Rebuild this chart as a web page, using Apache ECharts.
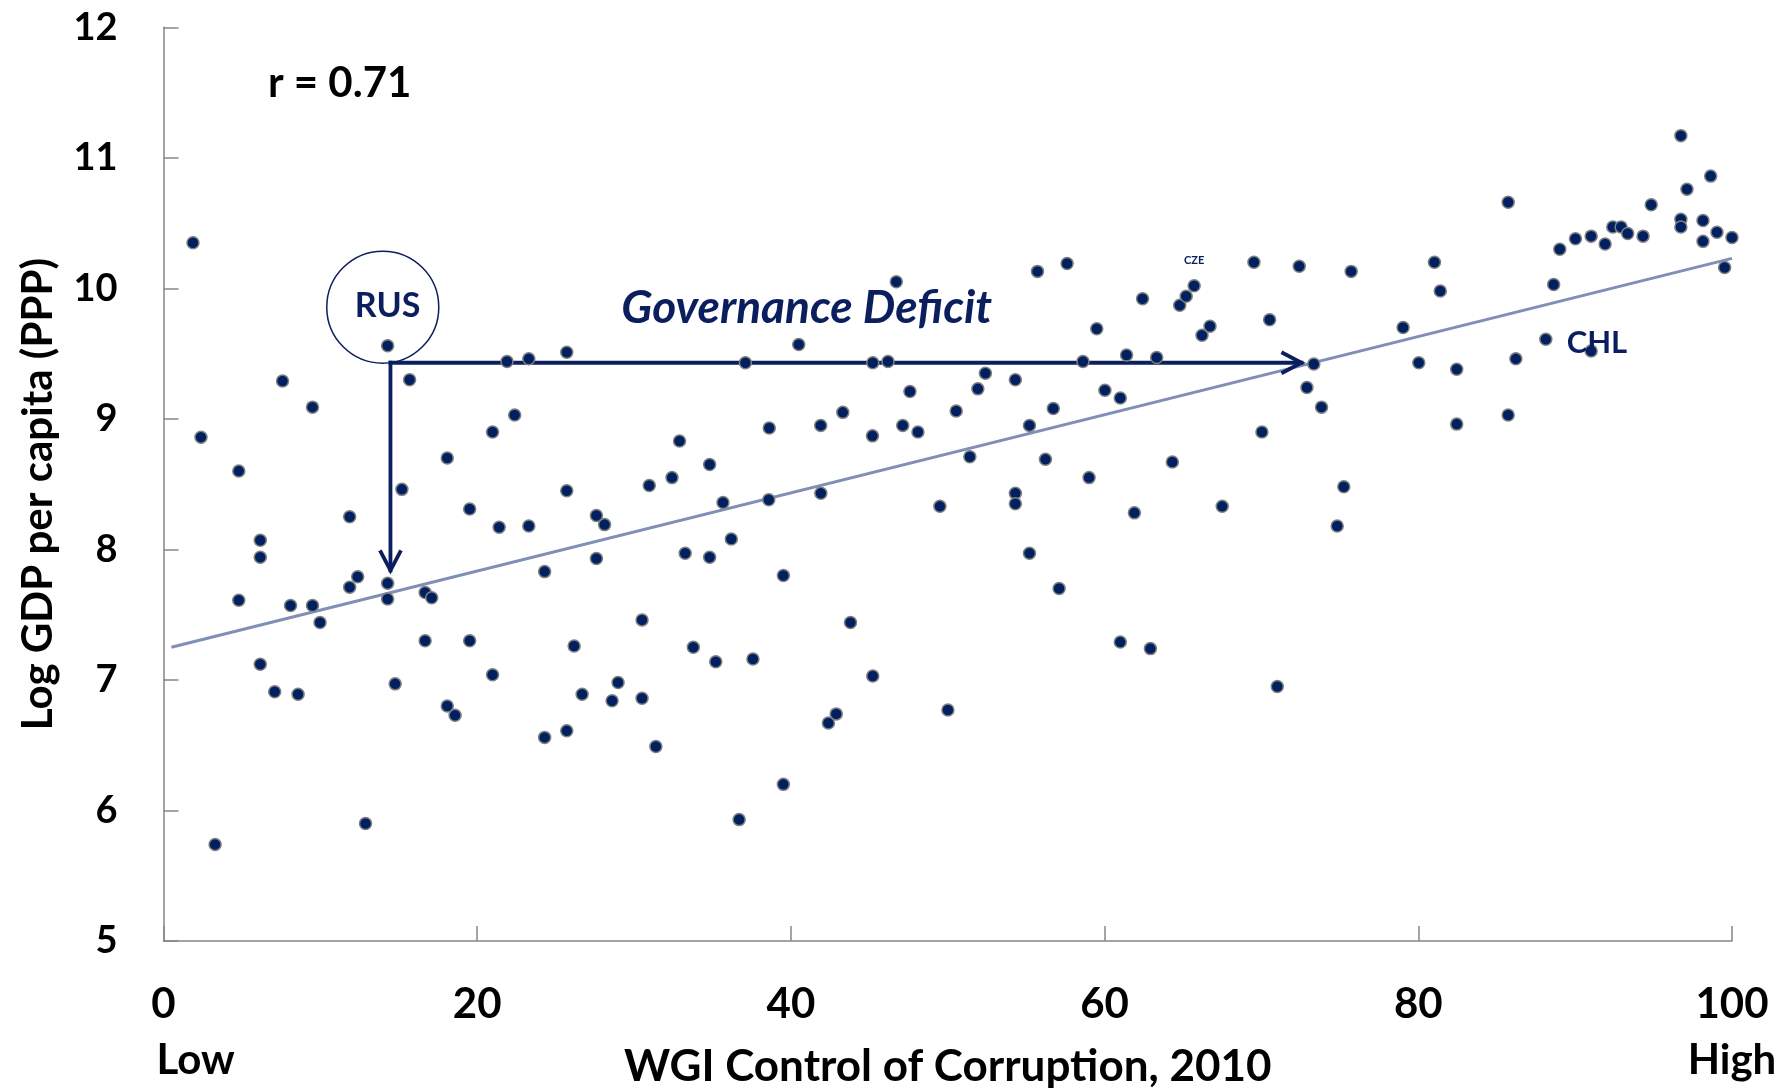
<!DOCTYPE html>
<html>
<head>
<meta charset="utf-8">
<title>Governance deficit</title>
<script src="https://cdn.jsdelivr.net/npm/echarts@6.0.0/dist/echarts.min.js"></script>
<style>
  html, body { margin: 0; padding: 0; background: #fff; }
  #chart { width: 1783px; height: 1091px; }
</style>
</head>
<body>
<div id="chart"></div>
<script>
// WGI Control of Corruption (x) vs log GDP per capita PPP (y), one entry per country
const wgiScores = [
  1.88, 2.39, 3.29, 4.80, 4.80, 6.17, 6.17, 6.17, 7.09, 7.59,
  8.10, 8.58, 9.50, 9.50, 9.98, 11.87, 11.87, 12.38, 12.88, 14.29,
  14.29, 14.29, 14.77, 15.20, 15.69, 16.68, 17.10, 16.68, 18.09, 18.09,
  18.59, 19.52, 19.52, 20.98, 20.98, 21.40, 21.90, 22.39, 23.29, 23.29,
  24.30, 24.30, 25.71, 25.71, 25.71, 26.18, 26.69, 27.60, 28.12, 27.60,
  28.60, 28.98, 30.51, 30.51, 30.97, 31.39, 32.42, 32.90, 33.26, 33.78,
  34.82, 34.82, 35.21, 35.67, 36.20, 36.70, 37.10, 37.58, 38.62, 38.59,
  39.52, 39.52, 40.50, 41.91, 41.90, 42.39, 42.89, 43.31, 43.80, 45.22,
  45.20, 45.22, 46.19, 46.72, 47.13, 47.59, 48.10, 49.50, 50.01, 50.54,
  51.41, 51.92, 52.40, 54.31, 54.31, 54.31, 55.21, 55.21, 55.72, 56.23,
  56.73, 57.10, 57.61, 58.62, 59.01, 59.50, 60.02, 61.00, 61.00, 61.40,
  61.90, 62.42, 62.92, 63.32, 64.32, 64.79, 65.20, 65.71, 66.21, 66.72,
  67.50, 69.52, 70.03, 70.52, 71.01, 72.41, 72.90, 73.34, 73.83, 74.83,
  75.25, 75.72, 79.03, 80.03, 81.03, 81.40, 82.45, 82.45, 85.73, 85.73,
  86.22, 88.13, 88.63, 89.02, 90.02, 91.02, 91.02, 91.91, 92.40, 92.93,
  93.35, 94.33, 94.85, 96.74, 96.74, 96.74, 97.13, 98.15, 98.15, 98.64,
  99.04, 99.53, 100.0
];
const logGdp = [
  10.35, 8.86, 5.74, 8.60, 7.61, 8.07, 7.94, 7.12, 6.91, 9.29,
  7.57, 6.89, 9.09, 7.57, 7.44, 8.25, 7.71, 7.79, 5.90, 9.56,
  7.74, 7.62, 6.97, 8.46, 9.30, 7.67, 7.63, 7.30, 8.70, 6.80,
  6.73, 8.31, 7.30, 8.90, 7.04, 8.17, 9.44, 9.03, 9.46, 8.18,
  7.83, 6.56, 9.51, 8.45, 6.61, 7.26, 6.89, 8.26, 8.19, 7.93,
  6.84, 6.98, 7.46, 6.86, 8.49, 6.49, 8.55, 8.83, 7.97, 7.25,
  8.65, 7.94, 7.14, 8.36, 8.08, 5.93, 9.43, 7.16, 8.93, 8.38,
  7.80, 6.20, 9.57, 8.43, 8.95, 6.67, 6.74, 9.05, 7.44, 9.43,
  8.87, 7.03, 9.44, 10.05, 8.95, 9.21, 8.90, 8.33, 6.77, 9.06,
  8.71, 9.23, 9.35, 9.30, 8.43, 8.35, 8.95, 7.97, 10.13, 8.69,
  9.08, 7.70, 10.19, 9.44, 8.55, 9.69, 9.22, 9.16, 7.29, 9.49,
  8.28, 9.92, 7.24, 9.47, 8.67, 9.87, 9.94, 10.02, 9.64, 9.71,
  8.33, 10.20, 8.90, 9.76, 6.95, 10.17, 9.24, 9.42, 9.09, 8.18,
  8.48, 10.13, 9.70, 9.43, 10.20, 9.98, 9.38, 8.96, 10.66, 9.03,
  9.46, 9.61, 10.03, 10.30, 10.38, 10.40, 9.52, 10.34, 10.47, 10.47,
  10.42, 10.40, 10.64, 11.17, 10.53, 10.47, 10.76, 10.52, 10.36, 10.86,
  10.43, 10.16, 10.39
];

// fitted line end points
const trendX = [0.5, 100];
const trendY = [7.25, 10.23];

// governance deficit arrows: from Russia's level to the fitted line
const deficitCorner = [14.47, 9.43];
const deficitRightEnd = [72.55, 9.43];
const deficitDownEnd = [14.47, 7.84];

const xTicks = [0, 20, 40, 60, 80, 100];
const yTicks = [5, 6, 7, 8, 9, 10, 11, 12];

const navy = '#0b1f5e';
const font = 'Lato, "Open Sans", sans-serif';

const points = wgiScores.map((x, i) => [x, logGdp[i]]);

function renderArrow(params, api) {
  const a = api.coord([api.value(0), api.value(1)]);
  const b = api.coord([api.value(2), api.value(3)]);
  const dx = b[0] - a[0];
  const dy = b[1] - a[1];
  const len = Math.sqrt(dx * dx + dy * dy);
  const ux = dx / len, uy = dy / len;
  const head = 20, half = 10.5;
  const left = [b[0] - ux * head - uy * half, b[1] - uy * head + ux * half];
  const right = [b[0] - ux * head + uy * half, b[1] - uy * head - ux * half];
  return {
    type: 'group',
    children: [
      {
        type: 'line',
        shape: { x1: a[0], y1: a[1], x2: b[0], y2: b[1] },
        style: { stroke: navy, lineWidth: 3.8, lineCap: 'square' }
      },
      {
        type: 'polyline',
        shape: { points: [left, b, right] },
        style: { stroke: navy, lineWidth: 3.8, fill: null }
      }
    ]
  };
}

const chart = echarts.init(document.getElementById('chart'), null, { renderer: 'canvas' });

chart.setOption({
  animation: false,
  backgroundColor: '#fff',
  textStyle: { fontFamily: font },
  grid: {
    left: 163.5,
    right: 51,
    top: 27.3,
    bottom: 150,
    containLabel: false,
    outerBoundsMode: 'none'
  },
  xAxis: {
    type: 'value',
    min: xTicks[0],
    max: xTicks[xTicks.length - 1],
    interval: 20,
    name: 'WGI Control of Corruption, 2010',
    nameLocation: 'middle',
    nameGap: 104,
    nameTextStyle: { fontFamily: font, fontSize: 44, fontWeight: 'bold', color: '#000' },
    axisLine: { lineStyle: { color: '#868686', width: 1.5 } },
    axisTick: { inside: true, length: 15, lineStyle: { color: '#868686', width: 1.5 } },
    splitLine: { show: false },
    axisLabel: { margin: 42, fontFamily: font, fontSize: 42, fontWeight: 'bold', color: '#000' }
  },
  yAxis: {
    type: 'value',
    min: yTicks[0],
    max: yTicks[yTicks.length - 1],
    interval: 1,
    name: 'Log GDP per capita (PPP)',
    nameLocation: 'middle',
    nameRotate: 90,
    nameGap: 104,
    nameTextStyle: {
      fontFamily: font, fontSize: 42, fontWeight: 'bold', color: '#000',
      padding: [0, 20, 0, 0]
    },
    axisLine: { lineStyle: { color: '#868686', width: 1.5 } },
    axisTick: { inside: true, length: 15, lineStyle: { color: '#868686', width: 1.5 } },
    splitLine: { show: false },
    axisLabel: { margin: 46, fontFamily: font, fontSize: 38, fontWeight: 'bold', color: '#000' }
  },
  series: [
    {
      name: 'Trend',
      type: 'line',
      data: trendX.map((x, i) => [x, trendY[i]]),
      symbol: 'none',
      silent: true,
      z: 1,
      lineStyle: { color: '#7f8fb6', width: 3 }
    },
    {
      name: 'Governance deficit',
      type: 'custom',
      renderItem: renderArrow,
      silent: true,
      z: 2,
      encode: { x: [0, 2], y: [1, 3] },
      data: [
        [deficitCorner[0], deficitCorner[1], deficitRightEnd[0], deficitRightEnd[1]],
        [deficitCorner[0], deficitCorner[1], deficitDownEnd[0], deficitDownEnd[1]]
      ]
    },
    {
      name: 'Countries',
      type: 'scatter',
      data: points,
      symbol: 'circle',
      symbolSize: 12,
      z: 3,
      itemStyle: { color: '#002060', borderColor: '#808080', borderWidth: 1.5, opacity: 1 }
    },
    {
      name: 'RUS circle',
      type: 'scatter',
      data: [[13.98, 9.856]],
      symbolSize: 112,
      silent: true,
      z: 4,
      itemStyle: { color: 'rgba(0,0,0,0)', borderColor: navy, borderWidth: 1.5, opacity: 1 }
    },
    {
      name: 'Annotations',
      type: 'scatter',
      symbolSize: 0,
      silent: true,
      z: 5,
      itemStyle: { opacity: 1 },
      label: {
        show: true,
        position: 'inside',
        fontFamily: font,
        fontWeight: 'bold',
        color: navy,
        textBorderWidth: 0,
        textBorderColor: 'transparent'
      },
      data: [
        { value: [11.23, 11.571], label: { formatter: 'r = 0.71', fontSize: 42, color: '#000' } },
        { value: [14.29, 9.868], label: { formatter: 'RUS', fontSize: 34 } },
        { value: [41.01, 9.848], label: { formatter: 'Governance Deficit', fontSize: 46, fontStyle: 'italic' } },
        { value: [91.39, 9.58], label: { formatter: 'CHL', fontSize: 31 } },
        { value: [65.71, 10.212], label: { formatter: 'CZE', fontSize: 11 } }
      ]
    }
  ]
});

// "Low" / "High" under the ends of the x axis
const lowPos = chart.convertToPixel({ gridIndex: 0 }, [xTicks[0], yTicks[0]]);
const highPos = chart.convertToPixel({ gridIndex: 0 }, [xTicks[xTicks.length - 1], yTicks[0]]);
chart.setOption({
  graphic: [
    {
      type: 'text',
      x: lowPos[0] - 7,
      y: lowPos[1] + 119,
      style: { text: 'Low', font: 'bold 42px ' + font, fill: '#000', align: 'left', verticalAlign: 'middle' }
    },
    {
      type: 'text',
      x: highPos[0],
      y: highPos[1] + 119,
      style: { text: 'High', font: 'bold 42px ' + font, fill: '#000', align: 'center', verticalAlign: 'middle' }
    }
  ]
});
</script>
</body>
</html>
